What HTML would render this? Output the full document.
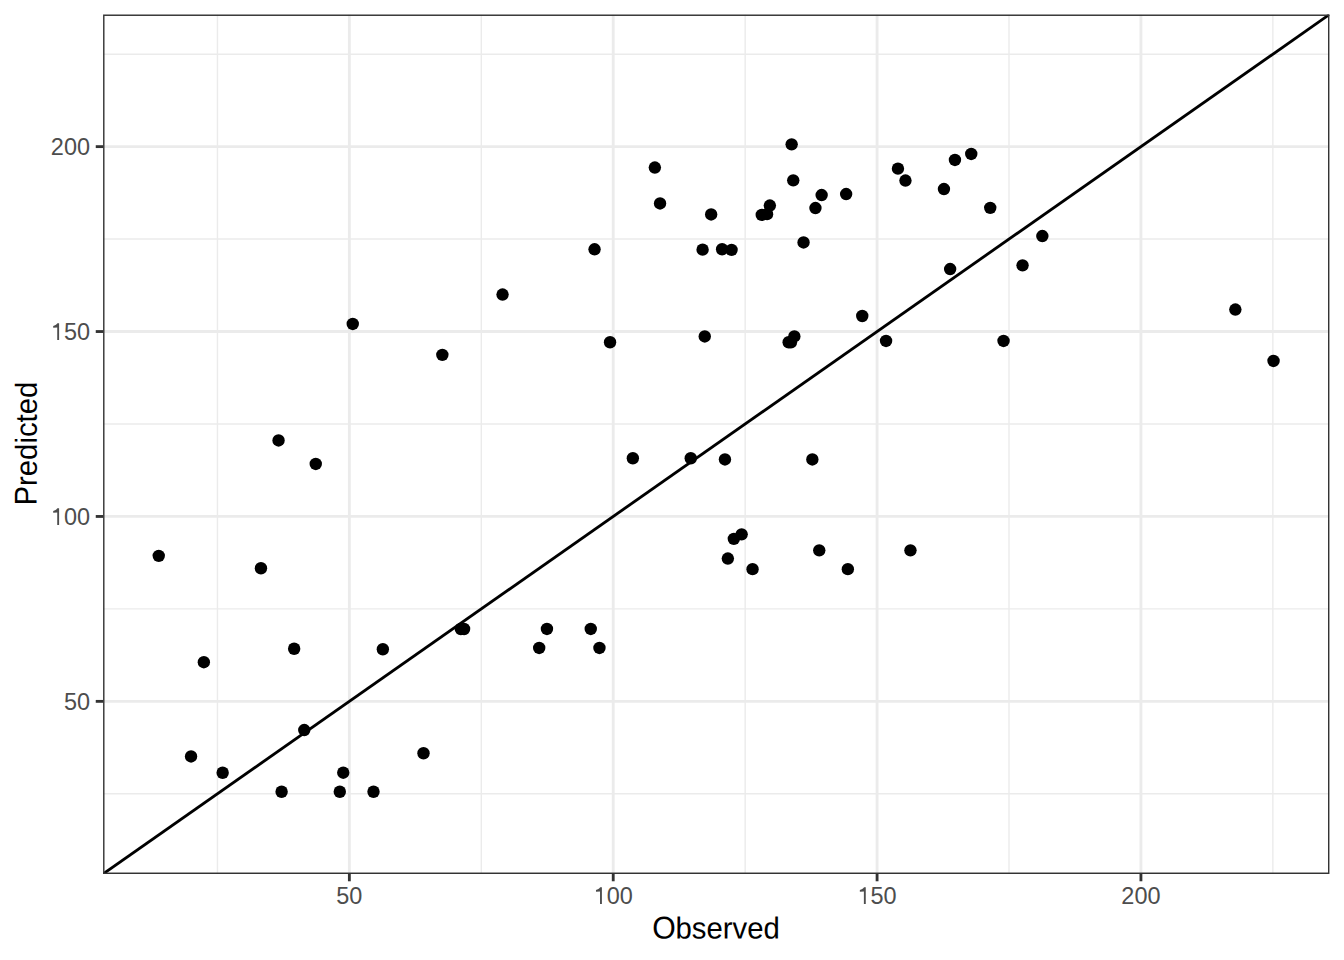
<!DOCTYPE html>
<html><head><meta charset="utf-8"><style>
html,body{margin:0;padding:0;background:#fff;width:1344px;height:960px;overflow:hidden}
svg{display:block}
text{font-family:"Liberation Sans",sans-serif}
.t{font-size:23.47px;fill:#4d4d4d}
.a{font-size:29.33px;fill:#000}
</style></head><body>
<svg width="1344" height="960" viewBox="0 0 1344 960">
<defs><clipPath id="pc"><rect x="103.08" y="14.53" width="1226.35" height="859.42"/></clipPath></defs>
<rect x="103.08" y="14.53" width="1226.35" height="859.42" fill="#fff"/>
<g clip-path="url(#pc)"><line x1="217.44" y1="14.53" x2="217.44" y2="873.95" stroke="#ebebeb" stroke-width="1.42"/><line x1="103.08" y1="793.81" x2="1329.43" y2="793.81" stroke="#ebebeb" stroke-width="1.42"/><line x1="481.29" y1="14.53" x2="481.29" y2="873.95" stroke="#ebebeb" stroke-width="1.42"/><line x1="103.08" y1="608.90" x2="1329.43" y2="608.90" stroke="#ebebeb" stroke-width="1.42"/><line x1="745.15" y1="14.53" x2="745.15" y2="873.95" stroke="#ebebeb" stroke-width="1.42"/><line x1="103.08" y1="423.99" x2="1329.43" y2="423.99" stroke="#ebebeb" stroke-width="1.42"/><line x1="1009.00" y1="14.53" x2="1009.00" y2="873.95" stroke="#ebebeb" stroke-width="1.42"/><line x1="103.08" y1="239.08" x2="1329.43" y2="239.08" stroke="#ebebeb" stroke-width="1.42"/><line x1="1272.86" y1="14.53" x2="1272.86" y2="873.95" stroke="#ebebeb" stroke-width="1.42"/><line x1="103.08" y1="54.17" x2="1329.43" y2="54.17" stroke="#ebebeb" stroke-width="1.42"/><line x1="349.36" y1="14.53" x2="349.36" y2="873.95" stroke="#ebebeb" stroke-width="2.84"/><line x1="103.08" y1="701.36" x2="1329.43" y2="701.36" stroke="#ebebeb" stroke-width="2.84"/><line x1="613.22" y1="14.53" x2="613.22" y2="873.95" stroke="#ebebeb" stroke-width="2.84"/><line x1="103.08" y1="516.45" x2="1329.43" y2="516.45" stroke="#ebebeb" stroke-width="2.84"/><line x1="877.08" y1="14.53" x2="877.08" y2="873.95" stroke="#ebebeb" stroke-width="2.84"/><line x1="103.08" y1="331.54" x2="1329.43" y2="331.54" stroke="#ebebeb" stroke-width="2.84"/><line x1="1140.93" y1="14.53" x2="1140.93" y2="873.95" stroke="#ebebeb" stroke-width="2.84"/><line x1="103.08" y1="146.63" x2="1329.43" y2="146.63" stroke="#ebebeb" stroke-width="2.84"/><circle cx="278.55" cy="440.45" r="6.2"/><circle cx="315.75" cy="463.95" r="6.2"/><circle cx="158.75" cy="555.85" r="6.2"/><circle cx="260.95" cy="568.25" r="6.2"/><circle cx="203.85" cy="662.2" r="6.2"/><circle cx="294.15" cy="648.75" r="6.2"/><circle cx="382.85" cy="649.25" r="6.2"/><circle cx="304.25" cy="730.05" r="6.2"/><circle cx="191.05" cy="756.45" r="6.2"/><circle cx="222.65" cy="772.75" r="6.2"/><circle cx="281.6" cy="791.75" r="6.2"/><circle cx="343.25" cy="772.7" r="6.2"/><circle cx="339.8" cy="791.75" r="6.2"/><circle cx="373.5" cy="791.75" r="6.2"/><circle cx="423.5" cy="753.25" r="6.2"/><circle cx="352.75" cy="323.95" r="6.2"/><circle cx="442.35" cy="354.85" r="6.2"/><circle cx="502.55" cy="294.55" r="6.2"/><circle cx="610.05" cy="342.25" r="6.2"/><circle cx="460.85" cy="629.0" r="6.2"/><circle cx="464.05" cy="629.0" r="6.2"/><circle cx="546.95" cy="628.95" r="6.2"/><circle cx="590.75" cy="628.95" r="6.2"/><circle cx="539.2" cy="647.95" r="6.2"/><circle cx="599.45" cy="647.95" r="6.2"/><circle cx="594.55" cy="249.3" r="6.2"/><circle cx="654.85" cy="167.55" r="6.2"/><circle cx="660.05" cy="203.45" r="6.2"/><circle cx="702.6" cy="249.65" r="6.2"/><circle cx="722.1" cy="249.25" r="6.2"/><circle cx="731.57" cy="249.85" r="6.2"/><circle cx="791.65" cy="144.35" r="6.2"/><circle cx="793.25" cy="180.35" r="6.2"/><circle cx="769.85" cy="205.55" r="6.2"/><circle cx="761.75" cy="214.9" r="6.2"/><circle cx="767.05" cy="214.15" r="6.2"/><circle cx="711.15" cy="214.45" r="6.2"/><circle cx="821.65" cy="195.05" r="6.2"/><circle cx="815.45" cy="208.05" r="6.2"/><circle cx="846.15" cy="194.05" r="6.2"/><circle cx="803.55" cy="242.45" r="6.2"/><circle cx="704.75" cy="336.45" r="6.2"/><circle cx="794.35" cy="336.45" r="6.2"/><circle cx="788.65" cy="342.25" r="6.2"/><circle cx="790.95" cy="342.25" r="6.2"/><circle cx="897.95" cy="168.65" r="6.2"/><circle cx="905.45" cy="180.55" r="6.2"/><circle cx="954.95" cy="159.95" r="6.2"/><circle cx="971.25" cy="153.95" r="6.2"/><circle cx="943.95" cy="189.05" r="6.2"/><circle cx="990.25" cy="207.85" r="6.2"/><circle cx="1042.35" cy="236.05" r="6.2"/><circle cx="950.15" cy="269.05" r="6.2"/><circle cx="1022.55" cy="265.35" r="6.2"/><circle cx="862.25" cy="316.0" r="6.2"/><circle cx="886.05" cy="340.95" r="6.2"/><circle cx="1003.55" cy="340.95" r="6.2"/><circle cx="1235.35" cy="309.55" r="6.2"/><circle cx="1273.55" cy="360.95" r="6.2"/><circle cx="632.85" cy="458.25" r="6.2"/><circle cx="690.75" cy="458.25" r="6.2"/><circle cx="724.95" cy="459.45" r="6.2"/><circle cx="812.35" cy="459.45" r="6.2"/><circle cx="733.85" cy="538.85" r="6.2"/><circle cx="741.65" cy="534.35" r="6.2"/><circle cx="727.85" cy="558.55" r="6.2"/><circle cx="752.55" cy="569.15" r="6.2"/><circle cx="819.25" cy="550.35" r="6.2"/><circle cx="847.85" cy="569.15" r="6.2"/><circle cx="910.45" cy="550.35" r="6.2"/><line x1="103.08" y1="873.95" x2="1329.43" y2="14.53" stroke="#000" stroke-width="2.84"/><rect x="103.08" y="14.53" width="1226.35" height="859.42" fill="none" stroke="#333" stroke-width="2.84"/></g>
<line x1="349.36" y1="873.95" x2="349.36" y2="881.28" stroke="#333" stroke-width="2.84"/>
<line x1="95.75" y1="701.36" x2="103.08" y2="701.36" stroke="#333" stroke-width="2.84"/>
<line x1="613.22" y1="873.95" x2="613.22" y2="881.28" stroke="#333" stroke-width="2.84"/>
<line x1="95.75" y1="516.45" x2="103.08" y2="516.45" stroke="#333" stroke-width="2.84"/>
<line x1="877.08" y1="873.95" x2="877.08" y2="881.28" stroke="#333" stroke-width="2.84"/>
<line x1="95.75" y1="331.54" x2="103.08" y2="331.54" stroke="#333" stroke-width="2.84"/>
<line x1="1140.93" y1="873.95" x2="1140.93" y2="881.28" stroke="#333" stroke-width="2.84"/>
<line x1="95.75" y1="146.63" x2="103.08" y2="146.63" stroke="#333" stroke-width="2.84"/>
<text x="336.31" y="904" class="t">50</text>
<text x="63.89" y="710" class="t">50</text>
<path transform="translate(593.64,904) scale(23.47,-23.47)" d="M0.352 0L0.272 0L0.272 0.530L0.100 0.520L0.100 0.600C0.175 0.615 0.235 0.660 0.280 0.716L0.352 0.716Z" fill="#4d4d4d"/><text x="606.69" y="904" class="t">00</text>
<path transform="translate(50.84,525) scale(23.47,-23.47)" d="M0.352 0L0.272 0L0.272 0.530L0.100 0.520L0.100 0.600C0.175 0.615 0.235 0.660 0.280 0.716L0.352 0.716Z" fill="#4d4d4d"/><text x="63.89" y="525" class="t">00</text>
<path transform="translate(857.50,904) scale(23.47,-23.47)" d="M0.352 0L0.272 0L0.272 0.530L0.100 0.520L0.100 0.600C0.175 0.615 0.235 0.660 0.280 0.716L0.352 0.716Z" fill="#4d4d4d"/><text x="870.55" y="904" class="t">50</text>
<path transform="translate(50.84,340) scale(23.47,-23.47)" d="M0.352 0L0.272 0L0.272 0.530L0.100 0.520L0.100 0.600C0.175 0.615 0.235 0.660 0.280 0.716L0.352 0.716Z" fill="#4d4d4d"/><text x="63.89" y="340" class="t">50</text>
<text x="1121.35" y="904" class="t">200</text>
<text x="50.84" y="155" class="t">200</text>
<g transform="rotate(0.05,716.25,938.5)"><text transform="translate(664.08,938.5) scale(1.03,1.07) translate(-664.08,-938.5)" x="652.68" y="938.5" class="a">O</text><text transform="translate(0,938.5) scale(1,1.035) translate(0,-938.5)" x="675.49" y="938.5" class="a">bserved</text></g>
<g transform="translate(36.67,443.60) rotate(-89.95)"><text transform="translate(-52.17,0) scale(1,1.07) translate(52.17,0)" x="-61.95" y="0" class="a">P</text><text transform="scale(1,1.035)" x="-42.39" y="0" class="a">redicted</text></g>
</svg>
</body></html>
